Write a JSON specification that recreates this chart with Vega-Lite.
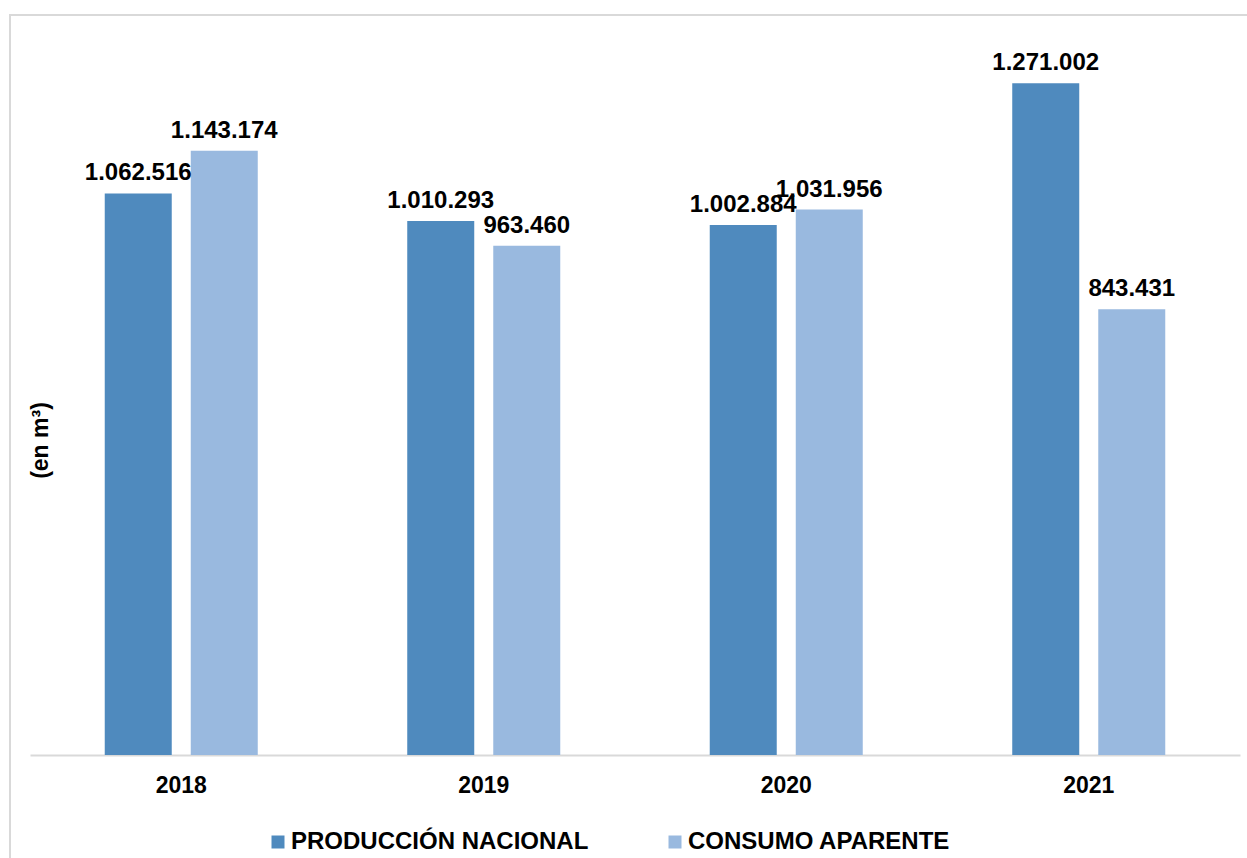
{
  "$schema": "https://vega.github.io/schema/vega-lite/v6.json",
  "autosize": {"type": "none"},
  "width": 1240,
  "height": 846,
  "padding": {"left": 10, "top": 15, "right": -3, "bottom": -3},
  "background": "white",
  "view": {"stroke": "#d9d9d9", "strokeWidth": 2},
  "config": {
    "font": "Liberation Sans",
    "locale": {"number": {"decimal": ",", "thousands": ".", "grouping": [3], "currency": ["", ""]}}
  },
  "data": {
    "values": [
      {"year": "2018", "serie": "PRODUCCIÓN NACIONAL", "value": 1062516},
      {"year": "2018", "serie": "CONSUMO APARENTE", "value": 1143174},
      {"year": "2019", "serie": "PRODUCCIÓN NACIONAL", "value": 1010293},
      {"year": "2019", "serie": "CONSUMO APARENTE", "value": 963460},
      {"year": "2020", "serie": "PRODUCCIÓN NACIONAL", "value": 1002884},
      {"year": "2020", "serie": "CONSUMO APARENTE", "value": 1031956},
      {"year": "2021", "serie": "PRODUCCIÓN NACIONAL", "value": 1271002},
      {"year": "2021", "serie": "CONSUMO APARENTE", "value": 843431}
    ]
  },
  "encoding": {
    "x": {
      "field": "year", "type": "nominal",
      "scale": {"type": "band", "range": [20, 1230], "paddingInner": 0, "paddingOuter": 0},
      "axis": {
        "title": null, "orient": "bottom", "offset": -106,
        "domainColor": "#d9d9d9", "domainWidth": 2,
        "ticks": false, "tickSize": 0, "labelPadding": 19, "labelAngle": 0,
        "labelFont": "Liberation Sans", "labelFontWeight": "bold", "labelFontSize": 23, "labelColor": "#000000",
        "grid": false
      }
    },
    "xOffset": {
      "field": "serie", "type": "nominal",
      "scale": {"domain": ["PRODUCCIÓN NACIONAL", "CONSUMO APARENTE"], "paddingInner": 0.221, "paddingOuter": 0.869}
    },
    "y": {
      "field": "value", "type": "quantitative",
      "scale": {"domain": [0, 1400000], "range": [740, 0], "nice": false, "zero": true},
      "axis": {
        "title": "(en m³)", "orient": "left",
        "domain": false, "ticks": false, "labels": false, "grid": false,
        "titleFont": "Liberation Sans", "titleFontWeight": "bold", "titleFontSize": 23, "titleColor": "#000000",
        "titleX": 37, "titleY": 425, "titleAngle": -90, "titleAlign": "center", "titleBaseline": "alphabetic"
      }
    }
  },
  "layer": [
    {
      "mark": {"type": "bar", "stroke": null},
      "encoding": {
        "color": {
          "field": "serie", "type": "nominal",
          "scale": {"domain": ["PRODUCCIÓN NACIONAL", "CONSUMO APARENTE"], "range": ["#4f8abe", "#99b9df"]},
          "legend": {
            "title": null, "orient": "none", "legendX": 256, "legendY": 815,
            "direction": "horizontal", "symbolType": "square", "symbolSize": 169, "symbolStrokeWidth": 0,
            "labelFont": "Liberation Sans", "labelFontWeight": "bold", "labelFontSize": 24, "labelColor": "#000000",
            "labelOffset": 1, "labelLimit": 0, "columnPadding": 74
          }
        }
      }
    },
    {
      "mark": {"type": "text", "baseline": "alphabetic", "dy": -13, "font": "Liberation Sans", "fontWeight": "bold", "fontSize": 24, "color": "#000000"},
      "encoding": {
        "text": {"field": "value", "type": "quantitative", "format": ",d"}
      }
    }
  ]
}
